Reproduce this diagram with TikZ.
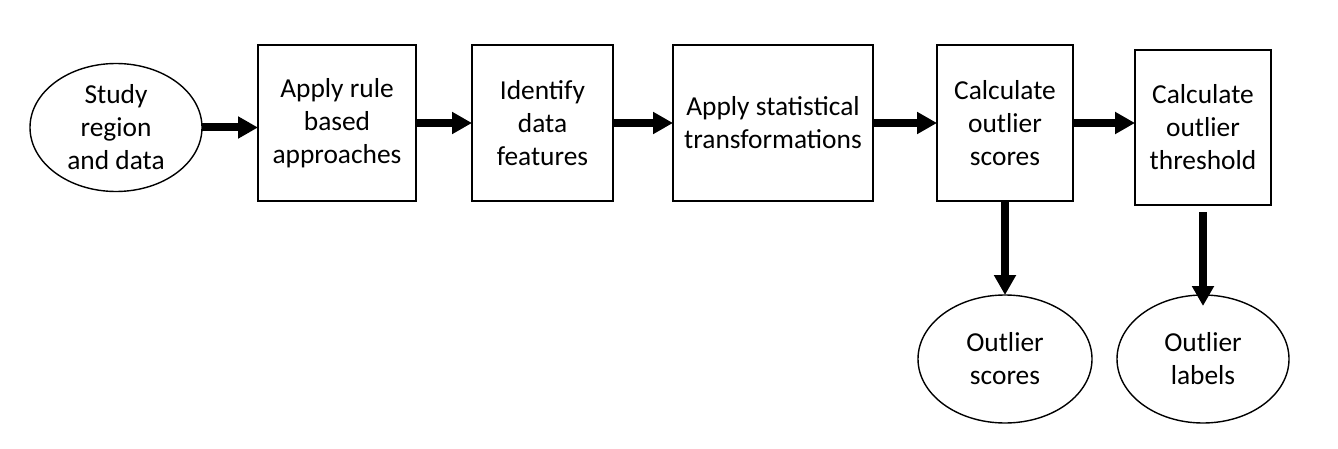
\documentclass[tikz,border=0pt]{standalone}
\usepackage{fontspec}
\setmainfont{Carlito}
\usetikzlibrary{arrows.meta, shapes, positioning}

\begin{document}
\begin{tikzpicture}[
squarednode/.style={rectangle, draw=black, line width=0.8pt, outer sep=0pt, minimum width=68pt, minimum height=78pt, align=center, font=\fontsize{13.7}{16.5}\selectfont},
roundnode/.style={ellipse, draw=black, line width=0.7pt, outer sep=0pt, minimum width=86pt, minimum height=64pt, inner sep=0pt, align=center, font=\fontsize{13.7}{16.5}\selectfont},
flow/.style={line width=4pt, -{Triangle[width=10.5pt,length=10pt]}},
]
\useasboundingbox (0,0) rectangle (669pt,-224.5pt);
%Nodes
\node[squarednode, minimum width=79pt] (rulesquare) at (168.5pt,-61.5pt) {Apply rule\\based\\approaches};
\node[roundnode]   (studynode)       [left=28pt of rulesquare, yshift=-2.25pt] {Study\\region\\and data};
\node[squarednode, minimum width=70.5pt] (featuresquare)   [right=28pt of rulesquare] {Identify\\data\\features};
\node[squarednode, minimum width=100pt] (transformsquare) [right=30pt of featuresquare] {Apply statistical\\transformations};
\node[squarednode] (scoresquare)     [right=32pt of transformsquare] {Calculate\\outlier\\scores};
\node[squarednode, minimum height=77.5pt] (thresholdsquare) [right=31pt of scoresquare, yshift=-2.25pt] {Calculate\\outlier\\threshold};
\node[roundnode, minimum width=87pt] (scoresnode) [below=47pt of scoresquare] {Outlier\\scores};
\node[roundnode]   (labelsnode)      at (scoresnode -| thresholdsquare) {Outlier\\labels};

%Lines
\draw[flow] (studynode.east) -- (studynode.east -| rulesquare.west);
\draw[flow] (rulesquare.east) -- (featuresquare.west);
\draw[flow] (featuresquare.east) -- (transformsquare.west);
\draw[flow] (transformsquare.east) -- (scoresquare.west);
\draw[flow] (scoresquare.east) -- (scoresquare.east -| thresholdsquare.west);
\draw[flow] (scoresquare.south) -- (scoresnode.north);
\draw[flow] ([yshift=-3.5pt]thresholdsquare.south) -- ([yshift=-5.5pt]labelsnode.north);

\end{tikzpicture}
\end{document}
